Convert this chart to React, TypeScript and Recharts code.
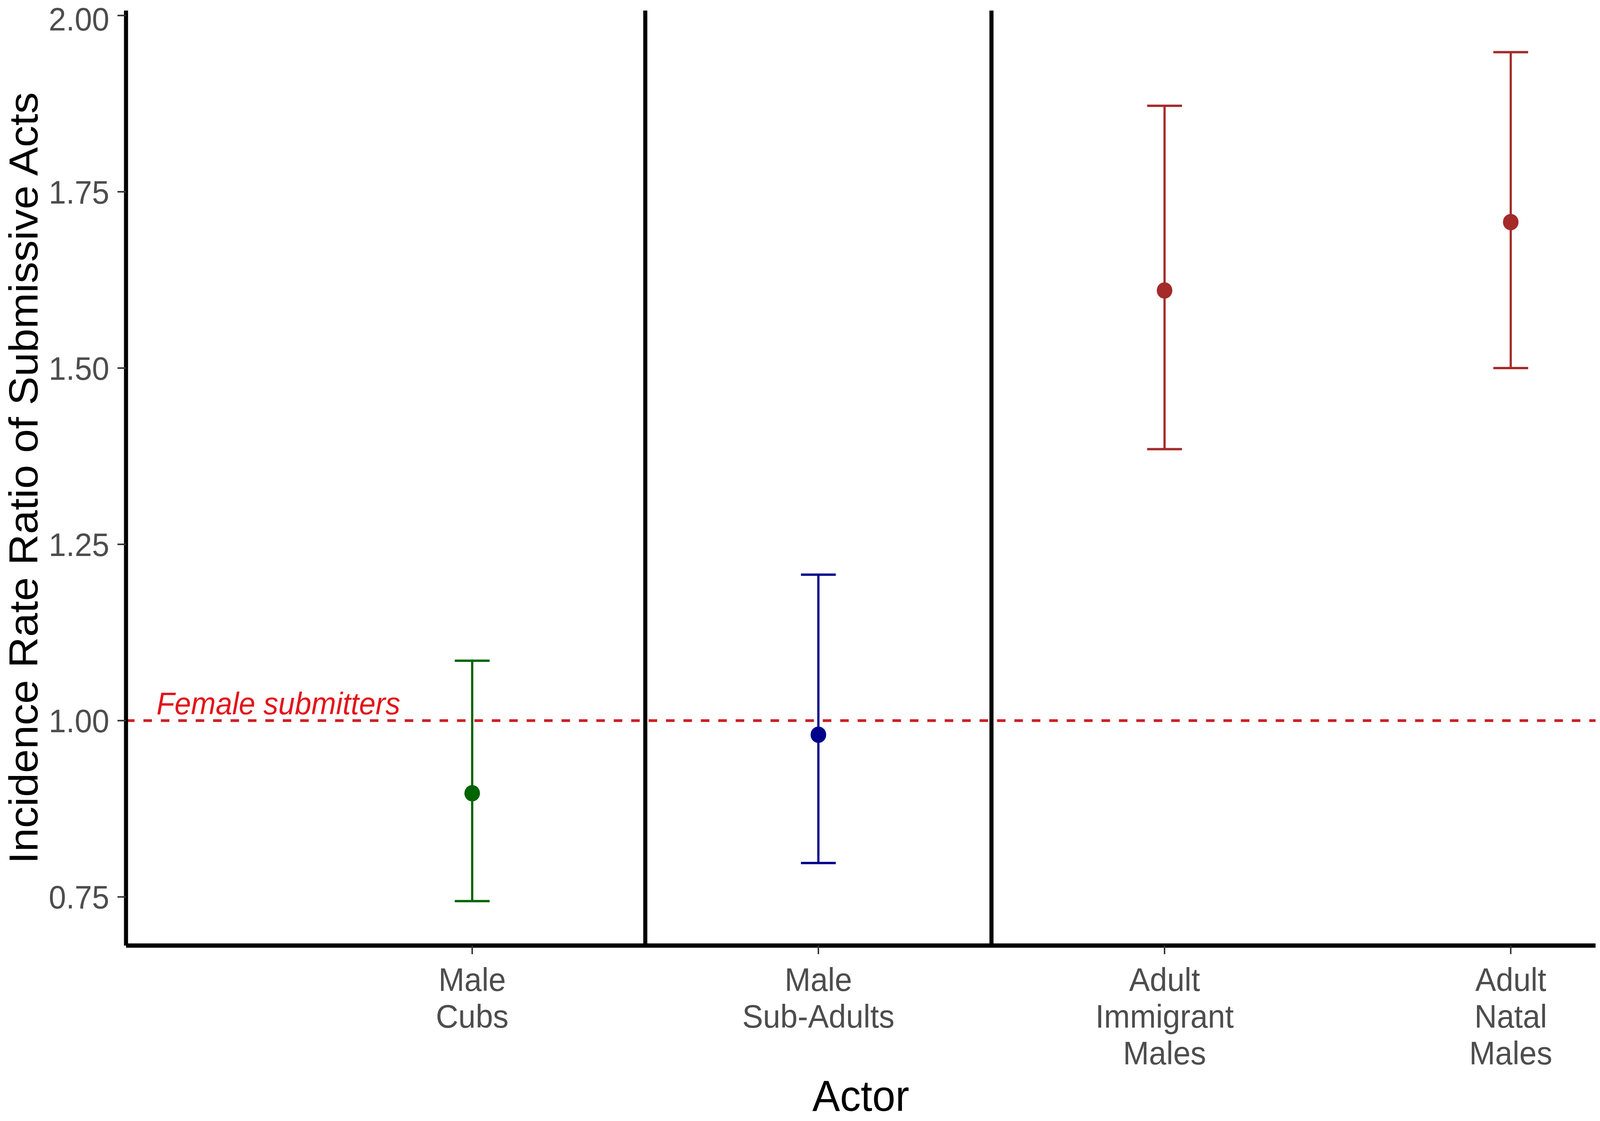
import React from "react";
import {
  ScatterChart,
  Scatter,
  XAxis,
  YAxis,
  ErrorBar,
  ReferenceLine,
  ReferenceDot,
} from "recharts";

// values
const actorLines = [
  ["Male", "Cubs"],
  ["Male", "Sub-Adults"],
  ["Adult", "Immigrant", "Males"],
  ["Adult", "Natal", "Males"],
];
const estimate = [0.897, 0.98, 1.61, 1.707];
const lower = [0.744, 0.798, 1.385, 1.5];
const upper = [1.085, 1.207, 1.872, 1.948];
const yTicks = [0.75, 1.0, 1.25, 1.5, 1.75, 2.0];
const groupBreaks = [1.5, 2.5];
const femaleRef = 1.0;

const colors = ["#006400", "#00008B", "#A52A2A", "#A52A2A"];

const W = 4317;
const H = 2869;
const FONT = "'Liberation Sans', Arial, sans-serif";
const TICK_GREY = "#4D4D4D";

const series = estimate.map((est, i) => ({
  x: i + 1,
  y: est,
  err: [est - lower[i], upper[i] - est],
}));

const ActorTick = (props: any) => {
  const { x, y, payload } = props;
  const lines = actorLines[Math.round(payload.value) - 1] || [];
  return (
    <text x={x} y={y} textAnchor="middle" fill={TICK_GREY} fontSize={84} fontFamily={FONT}>
      {lines.map((l, i) => (
        <tspan key={i} x={x} dy={94}>
          {l}
        </tspan>
      ))}
    </text>
  );
};

export default function App() {
  // the viewport can be narrower than the figure; squeeze it to fit
  const sx = typeof window !== "undefined" ? Math.min(1, window.innerWidth / W) : 1;
  return (
    <div
      style={{
        position: "absolute",
        left: 0,
        top: 0,
        width: W,
        height: H,
        background: "#fff",
        transform: `scaleX(${sx})`,
        transformOrigin: "0 0",
      }}
    >
      <ScatterChart
        width={W}
        height={H}
        margin={{ top: 27, right: 12, bottom: 0, left: 0 }}
        style={{ fontFamily: FONT }}
      >
        <XAxis
          type="number"
          dataKey="x"
          domain={[0, 4.245]}
          ticks={[1, 2, 3, 4]}
          allowDataOverflow
          height={449}
          axisLine={{ stroke: "#000", strokeWidth: 11 }}
          tickLine={{ stroke: "#333", strokeWidth: 4 }}
          tickSize={22}
          tickMargin={0}
          tick={<ActorTick />}
          label={{
            content: ({ viewBox }: any) => (
              <text
                x={viewBox.x + viewBox.width / 2}
                y={viewBox.y + viewBox.height - 26}
                textAnchor="middle"
                fontSize={112}
                fill="#000"
                fontFamily={FONT}
              >
                Actor
              </text>
            ),
          }}
        />
        <YAxis
          type="number"
          dataKey="y"
          domain={[0.681, 2.007]}
          ticks={yTicks}
          allowDataOverflow
          width={340}
          axisLine={{ stroke: "#000", strokeWidth: 11 }}
          tickLine={{ stroke: "#333", strokeWidth: 4 }}
          tickSize={23}
          tickMargin={22}
          tick={{ fill: TICK_GREY, fontSize: 84, fontFamily: FONT }}
          tickFormatter={(v: number) => v.toFixed(2)}
          label={{
            content: ({ viewBox }: any) => {
              const cx = 101;
              const cy = viewBox.y + viewBox.height / 2;
              return (
                <text
                  x={cx}
                  y={cy}
                  transform={`rotate(-90 ${cx} ${cy})`}
                  textAnchor="middle"
                  fontSize={110}
                  fill="#000"
                  fontFamily={FONT}
                >
                  Incidence Rate Ratio of Submissive Acts
                </text>
              );
            },
          }}
        />

        {groupBreaks.map((b) => (
          <ReferenceLine key={b} x={b} stroke="#000" strokeWidth={11} />
        ))}
        <ReferenceLine
          y={femaleRef}
          stroke="#CC1F24"
          strokeWidth={7}
          strokeDasharray="23 24"
        />
        <ReferenceDot
          x={0.44}
          y={1.025}
          r={1}
          fill="none"
          stroke="none"
          label={{
            content: ({ viewBox }: any) => (
              <text
                x={viewBox.x + (viewBox.width || 0) / 2}
                y={viewBox.y + (viewBox.height || 0) / 2}
                dy={29}
                textAnchor="middle"
                fontSize={80}
                fontStyle="italic"
                fill="#E3141C"
                fontFamily={FONT}
              >
                Female submitters
              </text>
            ),
          }}
        />

        {series.map((d, i) => (
          <Scatter
            key={i}
            data={[d]}
            isAnimationActive={false}
            fill={colors[i]}
            shape={(p: any) => <circle cx={p.cx} cy={p.cy} r={21} fill={colors[i]} />}
          >
            <ErrorBar
              dataKey="err"
              direction="y"
              width={47}
              stroke={colors[i]}
              strokeWidth={6}
              isAnimationActive={false}
            />
          </Scatter>
        ))}
      </ScatterChart>
    </div>
  );
}
